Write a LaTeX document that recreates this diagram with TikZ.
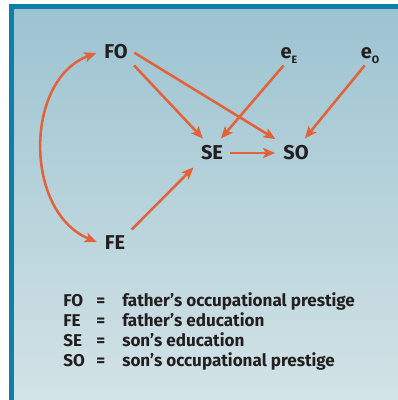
\documentclass[tikz,border=0pt]{standalone}
\usepackage{fontspec}
\setmainfont{Fira Sans}
\usetikzlibrary{arrows.meta}
\definecolor{marco}{HTML}{0E7FA6}
\definecolor{cieloarriba}{HTML}{9CC3D1}
\definecolor{cieloabajo}{HTML}{D3E3E6}
\definecolor{flecha}{HTML}{E2623A}
\definecolor{tinta}{HTML}{231F20}
\newcommand{\bajo}[1]{\raisebox{-0.45ex}{\fontsize{8}{9}\selectfont #1}}

\begin{document}
\begin{tikzpicture}[x=0.75pt,y=-0.75pt,
   var/.style={font=\bfseries\fontsize{15}{17}\selectfont,text=tinta,inner sep=4pt,
               text height=10.3pt,text depth=0pt},
   link/.style={draw=flecha,line width=1.9pt,shorten >=2pt,shorten <=1pt,
                -{Stealth[length=9pt,width=7.5pt,inset=2pt]}},
   abbr/.style={anchor=base west,inner sep=0pt,text=tinta,font=\bfseries\fontsize{12.8}{14}\selectfont},
   gloss/.style={abbr}]

  % fondo y marco
  \useasboundingbox (0,0) rectangle (398,400);
  \fill[white] (0,0) rectangle (398,400);
  \shade[top color=cieloarriba,bottom color=cieloabajo] (13,8) rectangle (398,400);
  \fill[marco] (9,4) rectangle (13.5,400);
  \fill[marco] (9,4) rectangle (398,8.5);

  % --- variables ---
  \node[var] (FO) at (116,52) {FO};
  \node[var] (eE) at (289,52) {e\bajo{E}};
  \node[var] (eO) at (370,52) {e\bajo{O}};
  \node[var] (SE) at (212,153) {SE};
  \node[var] (SO) at (296,153) {SO};
  \node[var] (FE) at (115,243) {FE};

  % --- caminos ---
  \draw[link] (FO.south east) -- (SE.120);
  \draw[link] (FO.east) -- (SO.north west);
  \draw[link] (eE.250) -- (SE.60);
  \draw[link] (eO.250) -- (SO.60);
  \draw[link] (SE) -- (SO);
  \draw[link] (FE.north east) -- (SE.south west);
  \draw[link,{Stealth[length=9pt,width=7.5pt,inset=2pt]}-{Stealth[length=9pt,width=7.5pt,inset=2pt]},shorten <=2pt]
    (FE.west) .. controls (24,212) and (24,80) .. (FO.west);

  % --- leyenda ---
  \foreach \k/\d [count=\i] in {FO/father’s occupational prestige,FE/father’s education,
                                SE/son’s education,SO/son’s occupational prestige}{
    \node[abbr]  (abbr\i)  at (63,286+20*\i) {\k};
    \node[abbr]  (eq\i)    at (96,286+20*\i) {=};
    \node[gloss] (gloss\i) at (122,286+20*\i) {\d};
  }
\end{tikzpicture}
\end{document}
